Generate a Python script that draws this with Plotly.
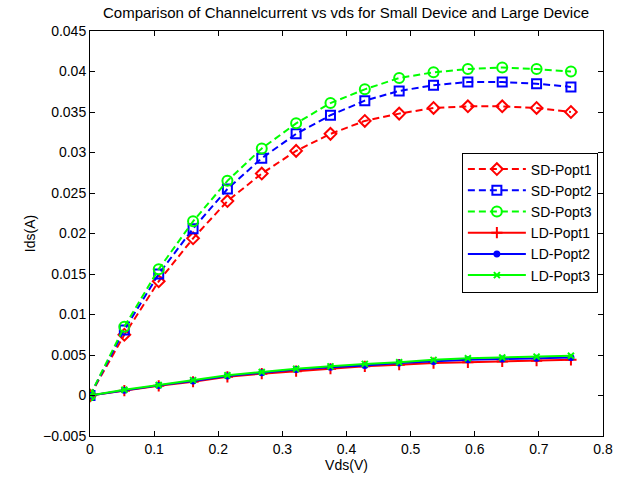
import numpy as np
import plotly.graph_objects as go

vds = np.linspace(0, 0.75, 15).tolist()

sd_popt1 = [0, 0.0075, 0.0141, 0.0194, 0.0240, 0.0274, 0.0302, 0.0323, 0.0339, 0.0348, 0.0355, 0.0357, 0.0357, 0.0355, 0.0350]
sd_popt2 = [0, 0.0081, 0.0150, 0.0206, 0.0255, 0.0293, 0.0323, 0.0346, 0.0364, 0.0376, 0.0383, 0.0387, 0.0387, 0.0385, 0.0381]
sd_popt3 = [0, 0.0085, 0.0156, 0.0215, 0.0265, 0.0305, 0.0336, 0.0361, 0.0378, 0.0392, 0.0399, 0.0403, 0.0405, 0.0403, 0.0400]
ld_popt1 = [0, 0.0006, 0.0012, 0.0017, 0.0023, 0.0027, 0.0030, 0.0033, 0.0036, 0.0038, 0.0040, 0.0041, 0.0042, 0.0043, 0.0044]
ld_popt2 = [0, 0.00065, 0.00125, 0.0018, 0.0024, 0.0028, 0.0032, 0.0035, 0.0037, 0.0040, 0.0042, 0.0044, 0.0045, 0.0046, 0.0047]
ld_popt3 = [0, 0.0007, 0.0013, 0.0019, 0.0025, 0.0029, 0.0033, 0.0036, 0.0039, 0.0041, 0.0044, 0.0046, 0.0047, 0.0048, 0.0049]

RED, BLUE, GREEN = "#FF0000", "#0000FF", "#00FF00"
FONT = "Liberation Sans, Arial"

fig = go.Figure()
series = [
    ("SD-Popt1", sd_popt1, RED, "7px,4px", "diamond-open", 9),
    ("SD-Popt2", sd_popt2, BLUE, "7px,4px", "square-open", 9),
    ("SD-Popt3", sd_popt3, GREEN, "7px,4px", "circle-open", 10),
    ("LD-Popt1", ld_popt1, RED, "solid", "cross-thin-open", 8),
    ("LD-Popt2", ld_popt2, BLUE, "solid", "circle", 5),
    ("LD-Popt3", ld_popt3, GREEN, "solid", "x-thin-open", 6),
]
for name, ys, col, dash, sym, size in series:
    fig.add_trace(go.Scatter(
        x=vds, y=ys, name=name, mode="lines+markers",
        line=dict(color=col, width=2, dash=dash),
        marker=dict(symbol=sym, size=size, color=col, line=dict(color=col, width=2)),
    ))

axis_common = dict(
    showline=True, linecolor="black", linewidth=1, mirror="allticks",
    ticks="inside", ticklen=5, tickcolor="black", showgrid=False, zeroline=False,
    tickfont=dict(family=FONT, size=14, color="black"),
)
fig.update_xaxes(range=[0, 0.8], dtick=0.1, tickformat="~g",
                 title=dict(text="Vds(V)", font=dict(family=FONT, size=14, color="black"), standoff=2),
                 **axis_common)
fig.update_yaxes(range=[-0.005, 0.045], dtick=0.005, tickformat="~g",
                 title=dict(text="Ids(A)", font=dict(family=FONT, size=14, color="black"), standoff=4),
                 **axis_common)

fig.update_layout(
    width=639, height=480,
    margin=dict(l=90, r=36, t=31, b=44),
    paper_bgcolor="white", plot_bgcolor="white",
    title=dict(text="Comparison of Channelcurrent vs vds for Small Device and Large Device",
               x=346 / 639, xanchor="center", y=1 - 13 / 480, yanchor="middle",
               font=dict(family=FONT, size=15, color="black")),
    legend=dict(x=0.99, xanchor="right", y=0.70, yanchor="top",
                bordercolor="black", borderwidth=1, bgcolor="white",
                font=dict(family=FONT, size=14, color="black"),
                itemwidth=58, tracegroupgap=0),
    showlegend=True,
)

fig.write_html("out.html")
